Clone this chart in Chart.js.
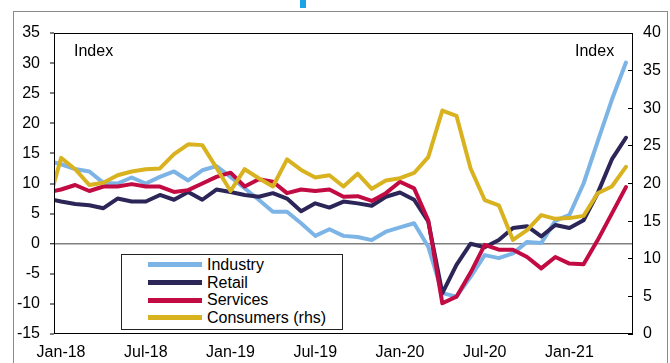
<!DOCTYPE html>
<html>
<head>
<meta charset="utf-8">
<script src="https://cdn.jsdelivr.net/npm/chart.js"></script>
<style>
  body { margin: 0; background: #fff; font-family: "Liberation Sans", Arial, sans-serif; color: #000; }
  #wrap { position: relative; width: 670px; height: 363px; overflow: hidden; }
  #frame { position: absolute; left: 13px; top: 11px; width: 653px; height: 400px; border: 1px solid #8a8a8a; }
  #mark { position: absolute; left: 300px; top: 0; width: 6px; height: 8px; background: #1aa3e8; }
  canvas { position: absolute; left: 0; top: 0; }
  .unit { position: absolute; top: 42px; font-size: 16px; line-height: 18px; }
  #legend { position: absolute; left: 121px; top: 254px; width: 222px; height: 76px; border: 1px solid #222; background: #fff; box-sizing: border-box; padding-top: 1px; }
  #legend .row { display: flex; align-items: center; height: 17.7px; font-size: 16px; }
  #legend .swatch { width: 54px; height: 5px; margin-left: 26px; margin-right: 5px; }
</style>
</head>
<body>
<div id="wrap">
  <div id="frame"></div>
  <div id="mark"></div>
  <canvas id="chart" width="670" height="363"></canvas>
  <div class="unit" style="left:74px">Index</div>
  <div class="unit" style="left:575px">Index</div>
  <div id="legend"></div>
</div>
<script>
// monthly readings, Dec-17 .. May-21
const months = [
  'Dec-17',
  'Jan-18','Feb-18','Mar-18','Apr-18','May-18','Jun-18','Jul-18','Aug-18','Sep-18','Oct-18','Nov-18','Dec-18',
  'Jan-19','Feb-19','Mar-19','Apr-19','May-19','Jun-19','Jul-19','Aug-19','Sep-19','Oct-19','Nov-19','Dec-19',
  'Jan-20','Feb-20','Mar-20','Apr-20','May-20','Jun-20','Jul-20','Aug-20','Sep-20','Oct-20','Nov-20','Dec-20',
  'Jan-21','Feb-21','Mar-21','Apr-21','May-21'
];
const xTickLabels = ['Jan-18','Jul-18','Jan-19','Jul-19','Jan-20','Jul-20','Jan-21'];

const industry = [13.8, 13.2, 12.4, 12.0, 10.1, 10.0, 11.0, 10.0, 11.1, 12.0, 10.5, 12.2, 12.9,
  11.1, 9.2, 7.3, 5.3, 5.3, 3.4, 1.3, 2.4, 1.3, 1.1, 0.6, 2.0,
  2.7, 3.4, -0.5, -8.2, -8.8, -5.5, -1.9, -2.4, -1.6, 0.3, 0.1, 3.8,
  4.8, 10.0, 17.0, 23.9, 30.1];
const retail = [7.5, 7.0, 6.6, 6.4, 5.9, 7.5, 7.0, 7.0, 8.1, 7.3, 8.6, 7.3, 9.0,
  8.6, 8.1, 7.8, 8.4, 7.5, 5.4, 6.7, 6.0, 7.0, 6.7, 6.3, 7.8,
  8.5, 7.3, 3.7, -8.2, -3.5, 0.0, -0.6, 0.6, 2.6, 2.9, 1.2, 3.1,
  2.6, 3.9, 8.4, 14.0, 17.6];
const services = [8.5, 9.0, 9.75, 8.75, 9.5, 9.5, 9.9, 9.5, 9.5, 8.6, 8.9, 10.0, 11.1,
  11.8, 9.5, 10.7, 10.3, 8.4, 9.0, 8.75, 9.0, 7.8, 7.9, 7.1, 8.4,
  10.3, 9.2, 3.9, -9.9, -8.8, -4.8, -0.2, -1.0, -1.0, -2.2, -4.1, -2.2,
  -3.3, -3.4, 0.6, 5.0, 9.4];
// consumers are read against the right-hand axis
const consumers = [16.7, 23.4, 21.9, 19.8, 20.1, 21.1, 21.6, 21.9, 22.0, 23.9, 25.2, 25.1, 22.1,
  19.0, 21.9, 20.7, 19.6, 23.2, 21.8, 20.8, 21.1, 19.6, 21.3, 19.3, 20.4,
  20.7, 21.4, 23.5, 29.7, 29.0, 22.0, 17.8, 17.1, 12.5, 13.8, 15.8, 15.3,
  15.4, 15.7, 18.7, 19.6, 22.2];

const toPoints = arr => arr.map((v, i) => ({ x: i, y: v }));

// black box round the plot area
const plotFrame = {
  id: 'plotFrame',
  afterDatasetsDraw(chart) {
    const { ctx, chartArea: a } = chart;
    ctx.save();
    ctx.strokeStyle = '#000';
    ctx.lineWidth = 1;
    ctx.strokeRect(Math.round(a.left) + 0.5, Math.round(a.top) + 0.5,
      Math.round(a.right - a.left) - 1, Math.round(a.bottom - a.top) - 1);
    ctx.restore();
  }
};

const line = (label, data, color, axis, order) => ({
  label, data: toPoints(data), yAxisID: axis, order,
  borderColor: color, backgroundColor: color, borderWidth: 4,
  pointRadius: 0, tension: 0, borderJoinStyle: 'round', borderCapStyle: 'round', clip: 0
});

const chart = new Chart(document.getElementById('chart'), {
  type: 'line',
  data: {
    datasets: [
      line('Industry', industry, '#7db4e6', 'y', 3),
      line('Retail', retail, '#2b2657', 'y', 2),
      line('Services', services, '#c20a43', 'y', 1),
      line('Consumers (rhs)', consumers, '#d9b21f', 'y1', 0)
    ]
  },
  options: {
    responsive: false,
    animation: false,
    devicePixelRatio: 1,
    layout: { padding: { top: 33, left: 0, right: 0, bottom: 0 } },
    plugins: { legend: { display: false }, tooltip: { enabled: false } },
    scales: {
      x: {
        type: 'linear', min: 0.5, max: 41.5,
        afterBuildTicks: s => { s.ticks = xTickLabels.map(l => ({ value: months.indexOf(l) })); },
        ticks: { autoSkip: false, maxRotation: 0, padding: 9, color: '#000',
          font: { family: 'Liberation Sans', size: 16 }, callback: v => months[v] },
        grid: { display: false, drawTicks: false },
        border: { display: false },
        afterFit: s => { s.height = 29; }
      },
      y: {
        position: 'left', min: -15, max: 35,
        ticks: { stepSize: 5, padding: 10, color: '#000', font: { family: 'Liberation Sans', size: 16 } },
        grid: {
          color: c => (c.tick && c.tick.value === 0 ? '#808080' : 'rgba(0,0,0,0)'),
          lineWidth: c => (c.tick && c.tick.value === 0 ? 1.5 : 0),
          tickLength: 4, tickColor: '#000', tickWidth: 1
        },
        border: { display: false },
        afterFit: s => { s.width = 54; }
      },
      y1: {
        position: 'right', min: 0, max: 40,
        ticks: { stepSize: 5, padding: 15, color: '#000', font: { family: 'Liberation Sans', size: 16 } },
        grid: { drawOnChartArea: false, tickLength: -5, tickColor: '#000', tickWidth: 1 },
        border: { display: false },
        afterFit: s => { s.width = 37; }
      }
    }
  },
  plugins: [plotFrame]
});

// legend in its own box, built from the datasets in legend order
const legendEl = document.getElementById('legend');
chart.data.datasets.forEach(ds => {
  const row = document.createElement('div');
  row.className = 'row';
  const sw = document.createElement('span');
  sw.className = 'swatch';
  sw.style.background = ds.borderColor;
  const txt = document.createElement('span');
  txt.textContent = ds.label;
  row.appendChild(sw);
  row.appendChild(txt);
  legendEl.appendChild(row);
});
</script>
</body>
</html>
